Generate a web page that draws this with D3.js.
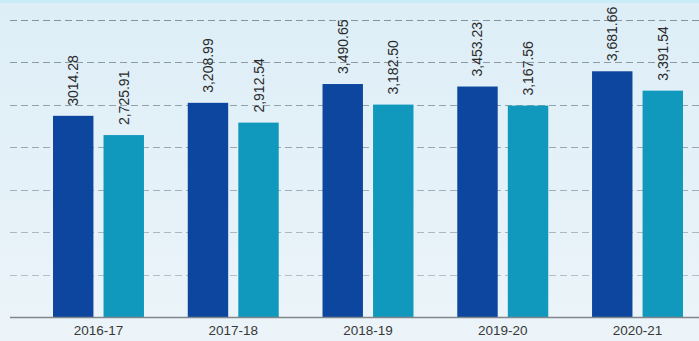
<!DOCTYPE html>
<html>
<head>
<meta charset="utf-8">
<script src="https://cdn.jsdelivr.net/npm/d3@7"></script>
<style>
  html, body { margin: 0; padding: 0; background: #e8f2f8; }
  svg { display: block; }
</style>
</head>
<body>
<svg id="chart" width="699" height="341"></svg>
<script>
// Fiscal years on the x axis
const years = ["2016-17", "2017-18", "2018-19", "2019-20", "2020-21"];
// Value labels as printed above each bar; bar heights are parsed from these
const seriesALabels = ["3014.28", "3,208.99", "3,490.65", "3,453.23", "3,681.66"];
const seriesBLabels = ["2,725.91", "2,912.54", "3,182.50", "3,167.56", "3,391.54"];
const seriesA = seriesALabels.map(s => +s.replace(/,/g, ""));
const seriesB = seriesBLabels.map(s => +s.replace(/,/g, ""));
const seriesColors = ["#0c469e", "#1198bd"];
const yMax = 4450;
const gridCount = 7;

const W = 699, H = 341;
const svg = d3.select("#chart");

// background wash
const defs = svg.append("defs");
const bg = defs.append("linearGradient").attr("id", "bg").attr("x1", 0).attr("y1", 0).attr("x2", 0).attr("y2", 1);
bg.append("stop").attr("offset", "0").attr("stop-color", "#ddeef7");
bg.append("stop").attr("offset", "1").attr("stop-color", "#ecf4f9");
svg.append("rect").attr("width", W).attr("height", H).attr("fill", "url(#bg)");
svg.append("rect").attr("width", W).attr("height", 3).attr("fill", "#c9ecf7");

const plot = { left: 10, right: W, top: 20, bottom: 317 };

const y = d3.scaleLinear().domain([0, yMax]).range([plot.bottom, plot.top]);
const x = d3.scaleBand().domain(years).range([53, 683]).paddingInner(0.325).paddingOuter(0);
const xs = d3.scaleBand().domain([0, 1]).range([0, x.bandwidth()]).paddingInner(0.2);

// dashed gridlines
const gridVals = d3.range(1, gridCount + 1).map(i => i * yMax / gridCount);
svg.append("g").selectAll("line").data(gridVals).join("line")
  .attr("x1", plot.left).attr("x2", plot.right)
  .attr("y1", d => Math.round(y(d)) + 0.5).attr("y2", d => Math.round(y(d)) + 0.5)
  .attr("stroke", "#86929c")
  .attr("stroke-opacity", (d, i) => 0.55 + 0.45 * i / (gridCount - 1))
  .attr("stroke-width", 1.1)
  .attr("stroke-dasharray", "7,4");

// bars
const rows = years.map((yr, i) => ({ yr, vals: [
  { k: 0, v: seriesA[i], label: seriesALabels[i] },
  { k: 1, v: seriesB[i], label: seriesBLabels[i] }
]}));

const groups = svg.append("g").selectAll("g").data(rows).join("g")
  .attr("transform", d => `translate(${x(d.yr)},0)`);

groups.selectAll("rect").data(d => d.vals).join("rect")
  .attr("x", d => xs(d.k))
  .attr("width", xs.bandwidth())
  .attr("y", d => y(d.v))
  .attr("height", d => y(0) - y(d.v))
  .attr("fill", d => seriesColors[d.k]);

// rotated value labels
groups.selectAll("text").data(d => d.vals).join("text")
  .attr("transform", d => `translate(${xs(d.k) + xs.bandwidth() / 2 + 5},${y(d.v) - 10}) rotate(-90)`)
  .attr("text-anchor", "start")
  .attr("font-family", "Liberation Sans, Arial, sans-serif")
  .attr("font-size", 14)
  .attr("fill", "#2a2a2a")
  .text(d => d.label);

// baseline
svg.append("line")
  .attr("x1", plot.left).attr("x2", plot.right)
  .attr("y1", y(0) + 0.5).attr("y2", y(0) + 0.5)
  .attr("stroke", "#7f868c").attr("stroke-width", 1.5);

// category labels
svg.append("g").selectAll("text").data(years).join("text")
  .attr("x", d => x(d) + x.bandwidth() / 2)
  .attr("y", 335)
  .attr("text-anchor", "middle")
  .attr("font-family", "Liberation Sans, Arial, sans-serif")
  .attr("font-size", 13.5)
  .attr("fill", "#383838")
  .text(d => d);
</script>
</body>
</html>
